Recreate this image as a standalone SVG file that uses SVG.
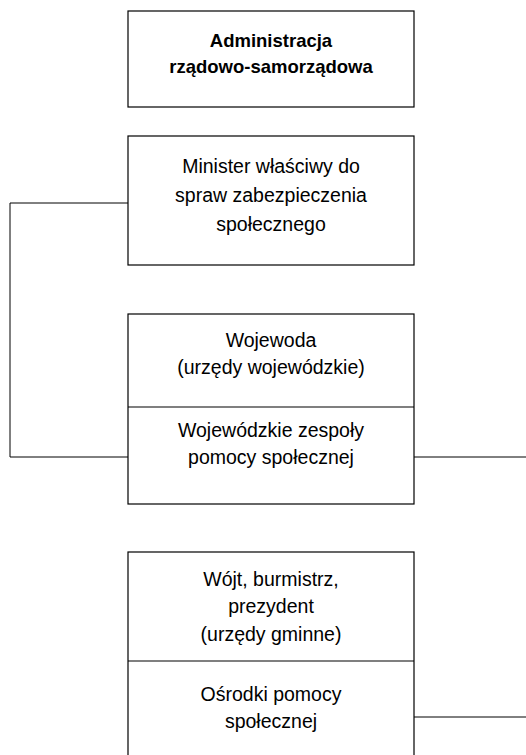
<svg xmlns="http://www.w3.org/2000/svg" width="526" height="755" viewBox="0 0 526 755">
<style>
  .box { fill: #fff; stroke: #000; stroke-width: 1.2; }
  .div { stroke: #000; stroke-width: 1.2; }
  .conn { fill: none; stroke: #000; stroke-width: 1; }
  text { font-family: "Liberation Sans", Arial, sans-serif; font-size: 19.5px; fill: #000; text-anchor: middle; }
  .b { font-weight: bold; font-size: 18.5px; }
</style>
<rect width="526" height="755" fill="#fff"/>
<g id="connectors">
  <path class="conn" d="M128,203 H10 V457 H128"/>
  <path class="conn" d="M414,457 H526"/>
  <path class="conn" d="M414,717 H526"/>
</g>
<g id="admin">
  <rect class="box" x="128" y="11" width="286" height="96"/>
  <text class="b" x="271" y="47">Administracja</text>
  <text class="b" x="271" y="73">rządowo-samorządowa</text>
</g>
<g id="minister">
  <rect class="box" x="128" y="136" width="286" height="129"/>
  <text x="271" y="173">Minister właściwy do</text>
  <text x="271" y="202">spraw zabezpieczenia</text>
  <text x="271" y="231">społecznego</text>
</g>
<g id="wojewoda">
  <rect class="box" x="128" y="314" width="286" height="190"/>
  <line class="div" x1="128" y1="407" x2="414" y2="407"/>
  <text x="271" y="347">Wojewoda</text>
  <text x="271" y="374">(urzędy wojewódzkie)</text>
  <text x="271" y="437">Wojewódzkie zespoły</text>
  <text x="271" y="464">pomocy społecznej</text>
</g>
<g id="gmina">
  <rect class="box" x="128" y="552" width="286" height="220"/>
  <line class="div" x1="128" y1="661" x2="414" y2="661"/>
  <text x="271" y="586">Wójt, burmistrz,</text>
  <text x="271" y="613">prezydent</text>
  <text x="271" y="641">(urzędy gminne)</text>
  <text x="271" y="701">Ośrodki pomocy</text>
  <text x="271" y="728">społecznej</text>
</g>
</svg>
